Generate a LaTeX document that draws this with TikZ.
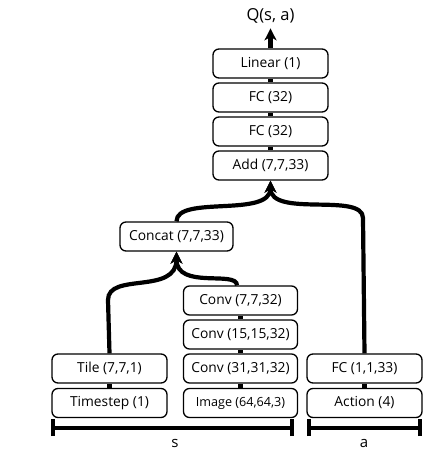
\documentclass[tikz,border=0pt]{standalone}
\usepackage{fontspec}
\setmainfont{Open Sans}
\usetikzlibrary{arrows.meta}
\begin{document}
\begin{tikzpicture}[x=1pt,y=-1pt,
  box/.style={draw, line width=1.3pt, rounded corners=6pt, minimum height=29pt, inner sep=0pt, font=\fontsize{13.8}{15}\selectfont},
  wbox/.style={box, minimum width=115pt},
  link/.style={line width=4.2pt},
  flow/.style={line width=4.2pt, -{Stealth[length=12pt,width=12pt,inset=3.5pt]}},
  brace/.style={line width=3.6pt}]
\useasboundingbox (0,0) rectangle (447,460);
% top column
\node[wbox] (lin) at (270.5,63.5) {Linear (1)};
\node[wbox] (fcb) at (270.5,97.5) {FC (32)};
\node[wbox] (fca) at (270.5,131.5) {FC (32)};
\node[wbox] (add) at (270.5,165.5) {Add (7,7,33)};
\node[font=\fontsize{16.5}{18}\selectfont] (q) at (270.5,16) {Q(s, a)};
% concat
\node[box, minimum width=113pt] (cat) at (176.5,236.5) {Concat (7,7,33)};
% conv column
\node[box, minimum width=114pt] (c7) at (240.5,300.5) {Conv (7,7,32)};
\node[box, minimum width=114pt] (c15) at (240.5,334.5) {Conv (15,15,32)};
\node[box, minimum width=114pt] (c31) at (240.5,368.5) {Conv (31,31,32)};
\node[box, minimum width=114pt, font=\fontsize{12.6}{14}\selectfont] (img) at (240.5,403) {Image (64,64,3)};
% tile column
\node[wbox] (tile) at (109.5,368.5) {Tile (7,7,1)};
\node[wbox] (ts) at (109.5,403) {Timestep (1)};
% action column
\node[wbox] (fcs) at (364.5,368.5) {FC (1,1,33)};
\node[wbox] (act) at (364.5,403) {Action (4)};
% short links
\draw[link] (add.north) -- (fca.south);
\draw[link] (fca.north) -- (fcb.south);
\draw[link] (fcb.north) -- (lin.south);
\draw[flow] (lin.north) -- ++(0,-20) coordinate (qtip);
\draw[link] (img.north) -- (c31.south);
\draw[link] (c31.north) -- (c15.south);
\draw[link] (c15.north) -- (c7.south);
\draw[link] (ts.north) -- (tile.south);
\draw[link] (act.north) -- (fcs.south);
% merging curves
\draw[flow] (tile.north) -- (108,300) .. controls (108,272) and (176.5,295) .. (cat.south);
\draw[flow] (c7.north -| 237,0) .. controls (237,270) and (176.5,290) .. (cat.south);
\draw[flow] (cat.north) .. controls (176.5,195) and (270.5,218) .. (add.south);
\draw[flow] (fcs.north) -- (363,218) .. controls (363,192) and (270.5,218) .. (add.south);
% braces
\coordinate (s1) at (53,428); \coordinate (s2) at (292,428);
\coordinate (a1) at (309,428); \coordinate (a2) at (420,428);
\draw[brace] (s1) -- (s2);
\draw[brace] ([yshift=-8]s1) -- ([yshift=9]s1);
\draw[brace] ([yshift=-8]s2) -- ([yshift=9]s2);
\draw[brace] (a1) -- (a2);
\draw[brace] ([yshift=-8]a1) -- ([yshift=9]a1);
\draw[brace] ([yshift=-8]a2) -- ([yshift=9]a2);
\node[font=\fontsize{15}{17}\selectfont] (sl) at (175,443) {s};
\node[font=\fontsize{15}{17}\selectfont] (al) at (364,443) {a};
\end{tikzpicture}
\end{document}
